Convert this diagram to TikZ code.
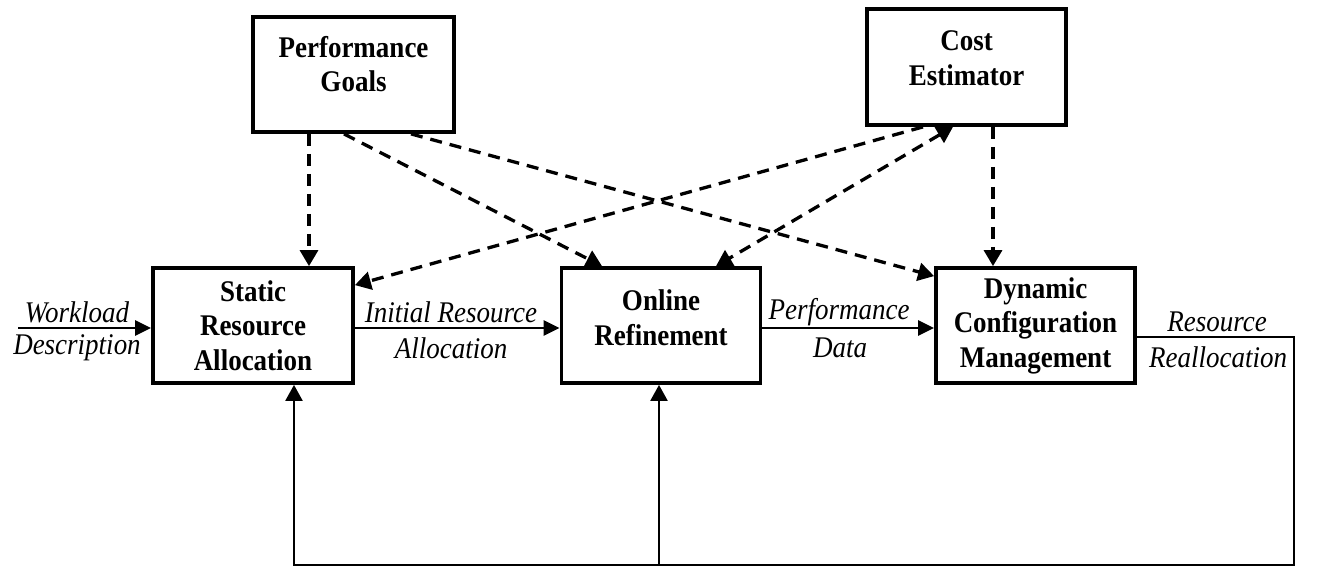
\documentclass[tikz,border=0pt]{standalone}
\usepackage{fontspec}
\setmainfont{Liberation Serif}[FakeStretch=0.9]
\usetikzlibrary{arrows.meta,calc}
\begin{document}
\begin{tikzpicture}[x=1pt,y=-1pt,
  box/.style={draw,line width=3.8pt,inner sep=0pt,minimum width=200pt,minimum height=115pt},
  btext/.style={align=center,inner sep=0pt,font=\fontsize{30}{34.5}\bfseries\selectfont},
  lbl/.style={inner sep=0pt,font=\fontsize{30}{34}\itshape\selectfont},
  dasharrow/.style={line width=3.3pt,dash pattern=on 12pt off 8pt,-{Triangle[length=16pt,width=18pt]}},
  dashboth/.style={line width=3.3pt,dash pattern=on 12pt off 8pt,{Triangle[length=16pt,width=18pt]}-{Triangle[length=16pt,width=18pt]}},
  solidarrow/.style={line width=2.8pt,-{Triangle[length=16pt,width=15pt]}},
  fbarrow/.style={line width=2.4pt,-{Triangle[length=16pt,width=17pt]}},
  fbline/.style={line width=2.4pt}]
\useasboundingbox (0,0) rectangle (1342,587);
% boxes
\node[box] (sra) at (253,325.5) {};
\node[btext] (srat) at (sra) {Static\\Resource\\Allocation};
\node[box,minimum width=199pt] (onr) at (661,325.5) {};
\node[btext] (onrt) at ($(onr)+(0,-8)$) {Online\\Refinement};
\node[box,minimum width=199pt] (dcm) at (1035.5,325.5) {};
\node[btext] (dcmt) at (dcm) {Dynamic\\Configuration\\Management};
\node[box,minimum width=201pt] (pg) at (353.5,74.5) {};
\node[btext] (pgt) at ($(pg)+(0,-10.5)$) {Performance\\Goals};
\node[box,minimum width=199pt,minimum height=116pt] (ce) at (966.5,67) {};
\node[btext] (cet) at ($(ce)+(0,-9)$) {Cost\\Estimator};
% dashed arrows
\draw[dasharrow] ([xshift=-44.5pt]pg.south) -- ([xshift=56pt]sra.north);
\draw[dasharrow] ([xshift=-9.5pt]pg.south) -- ([xshift=-59pt]onr.north);
\draw[dasharrow] ([xshift=57.5pt]pg.south) -- ([yshift=-10pt]dcm.north west);
\draw[dasharrow] ([xshift=-43.5pt]ce.south) -- ([yshift=-19pt]sra.north east);
\draw[dashboth] ([xshift=-13.5pt]ce.south) -- ([xshift=55pt]onr.north);
\draw[dasharrow] ([xshift=26.5pt]ce.south) -- ([xshift=-42.5pt]dcm.north);
% solid arrows
\coordinate (wl) at (18,328);
\draw[solidarrow] (wl) -- ([yshift=-2.5pt]sra.west);
\draw[solidarrow] ([yshift=-2.5pt]sra.east) -- ([yshift=-2.5pt]onr.west);
\draw[solidarrow] ([yshift=-2.5pt]onr.east) -- ([yshift=-2.5pt]dcm.west);
% feedback
\coordinate (fbr) at (1294,565);
\coordinate (fbm) at (659,565);
\draw[fbarrow] ([yshift=-11.5pt]dcm.east) -| (fbr) -| ([xshift=41pt]sra.south);
\draw[fbarrow] (fbm) -- (fbm |- onr.south);
% labels
\node[lbl] (l1) at (77,312) {Workload};
\node[lbl] (l2) at (77,348) {Description};
\node[lbl] (l3) at (451,312) {Initial Resource};
\node[lbl] (l4) at (451,348) {Allocation};
\node[lbl] (l5) at (839,312) {Performance};
\node[lbl] (l6) at (840,348) {Data};
\node[lbl] (l7) at (1217,322) {Resource};
\node[lbl] (l8) at (1218,357) {Reallocation};
\end{tikzpicture}
\end{document}
